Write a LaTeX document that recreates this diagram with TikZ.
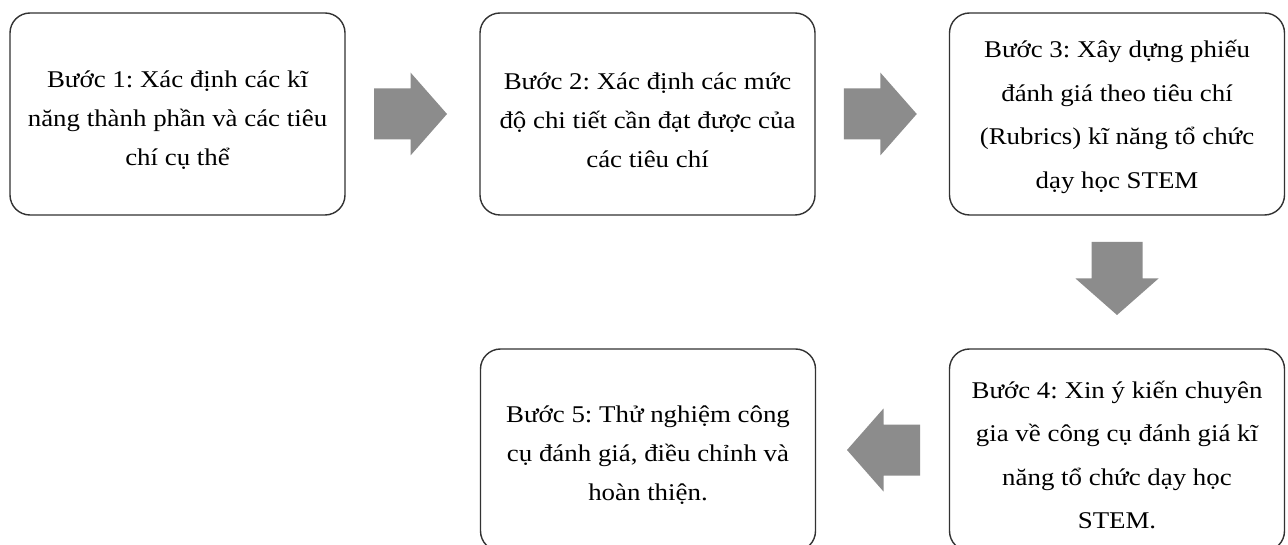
\documentclass[tikz,border=0pt]{standalone}
\usepackage{fontspec}
\setmainfont{Liberation Serif}[FakeStretch=1.12]
\usetikzlibrary{calc}
\frenchspacing
\definecolor{arrowgray}{RGB}{140,140,140}
\definecolor{boxline}{RGB}{50,50,50}
\tikzset{
 stepbox/.style={draw=boxline, line width=1.4pt, rounded corners=20pt, minimum width=335pt, minimum height=202pt, inner sep=0pt, outer sep=0pt},
 steptext/.style={align=center, inner sep=0pt, font=\fontsize{24}{39}\selectfont},
 widetext/.style={align=center, inner sep=0pt, font=\fontsize{24}{43.5}\selectfont},
 blockarrow/.style={fill=arrowgray, draw=none},
}
\newcommand{\blockarrowat}[2]{%
 \fill[blockarrow, shift={(#1)}, rotate=#2] (-36.5,-25.5) -- (0,-25.5) -- (0,-41.5) -- (36.5,0) -- (0,41.5) -- (0,25.5) -- (-36.5,25.5) -- cycle;}
\begin{document}
\begin{tikzpicture}[x=1pt,y=-1pt]
\clip (0,0) rectangle (1288,545);
\fill[white] (0,0) rectangle (1288,545);
\node[stepbox] (b1) at (177.5,114) {};
\node[stepbox] (b2) at (647.5,114) {};
\node[stepbox] (b3) at (1117,114) {};
\node[stepbox] (b4) at (1117,450) {};
\node[stepbox] (b5) at (648,450) {};
\node[steptext] (t1) at ([yshift=-6pt]b1.center) {Bước 1: Xác định các kĩ\\năng thành phần và các tiêu\\chí cụ thể};
\node[steptext] (t2) at ([yshift=-6pt]b2.center) {Bước 2: Xác định các mức\\độ chi tiết cần đạt được của\\các tiêu chí};
\node[widetext] (t3) at ([yshift=-3pt]b3.center) {Bước 3: Xây dựng phiếu\\đánh giá theo tiêu chí\\(Rubrics) kĩ năng tổ chức\\dạy học STEM};
\node[widetext] (t4) at ([yshift=-5pt]b4.center) {Bước 4: Xin ý kiến chuyên\\gia về công cụ đánh giá kĩ\\năng tổ chức dạy học\\STEM.};
\node[steptext] (t5) at ([yshift=-5pt]b5.center) {Bước 5: Thử nghiệm công\\cụ đánh giá, điều chỉnh và\\hoàn thiện.};
\coordinate (m12) at ($(b1.east)!0.5!(b2.west)+(-2,0)$);
\coordinate (m23) at ($(b2.east)!0.5!(b3.west)+(-2,0)$);
\coordinate (m34) at ($(b3.south)!0.5!(b4.north)+(0,-3.5)$);
\coordinate (m45) at ($(b4.west)!0.5!(b5.east)+(1,0)$);
\blockarrowat{m12}{0}
\blockarrowat{m23}{0}
\blockarrowat{m34}{-90}
\blockarrowat{m45}{180}
\end{tikzpicture}
\end{document}
